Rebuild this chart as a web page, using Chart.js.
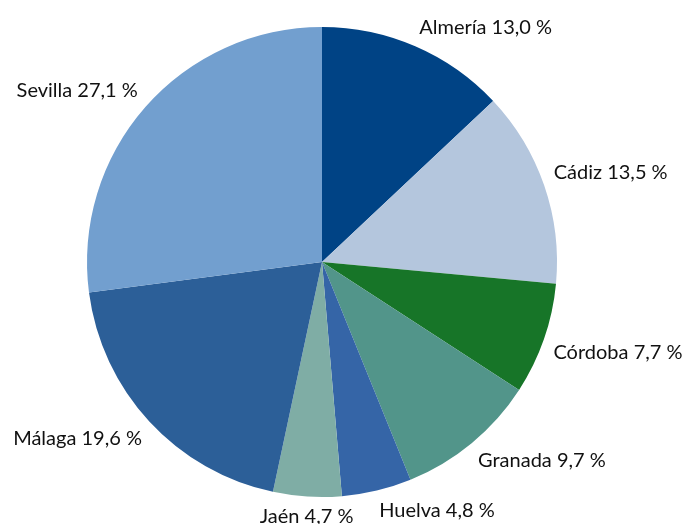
<!DOCTYPE html>
<html>
<head>
<meta charset="utf-8">
<script src="https://cdn.jsdelivr.net/npm/chart.js@4/dist/chart.umd.min.js"></script>
<style>
html,body{margin:0;padding:0;background:#fff;}
canvas{display:block;}
</style>
</head>
<body>
<canvas id="c" width="686" height="524"></canvas>
<script>
const provinces = ["Almería","Cádiz","Córdoba","Granada","Huelva","Jaén","Málaga","Sevilla"];
const shares = [13.0, 13.5, 7.7, 9.7, 4.8, 4.7, 19.6, 27.1];
const sliceColors = ["#004385","#b4c6dd","#177528","#52958a","#3565a7","#7fada5","#2c5f98","#729fcf"];

const labelPlugin = {
  id: 'outsideLabels',
  afterDatasetsDraw(chart) {
    const ctx = chart.ctx;
    const meta = chart.getDatasetMeta(0);
    ctx.save();
    ctx.font = '20px Lato, "Noto Sans", sans-serif';
    ctx.fillStyle = '#111111';
    meta.data.forEach((arc, i) => {
      const p = arc.getProps(['x','y','startAngle','endAngle','outerRadius'], true);
      const mid = (p.startAngle + p.endAngle) / 2;
      const r = p.outerRadius + 10;
      const ax = p.x + Math.cos(mid) * r;
      const ay = p.y + Math.sin(mid) * r;
      const text = provinces[i] + ' ' + shares[i].toFixed(1).replace('.', ',') + ' %';
      const c = Math.cos(mid);
      ctx.textAlign = c > 0.15 ? 'left' : (c < -0.15 ? 'right' : 'center');
      ctx.textBaseline = Math.sin(mid) < 0 ? 'bottom' : 'top';
      ctx.fillText(text, ax, ay);
    });
    ctx.restore();
  }
};

new Chart(document.getElementById('c'), {
  type: 'pie',
  data: {
    labels: provinces,
    datasets: [{
      data: shares,
      backgroundColor: sliceColors,
      borderWidth: 0
    }]
  },
  options: {
    responsive: false,
    animation: false,
    layout: { padding: { left: 87, right: 129, top: 27, bottom: 27 } },
    plugins: { legend: { display: false }, tooltip: { enabled: false } }
  },
  plugins: [labelPlugin]
});
</script>
</body>
</html>
